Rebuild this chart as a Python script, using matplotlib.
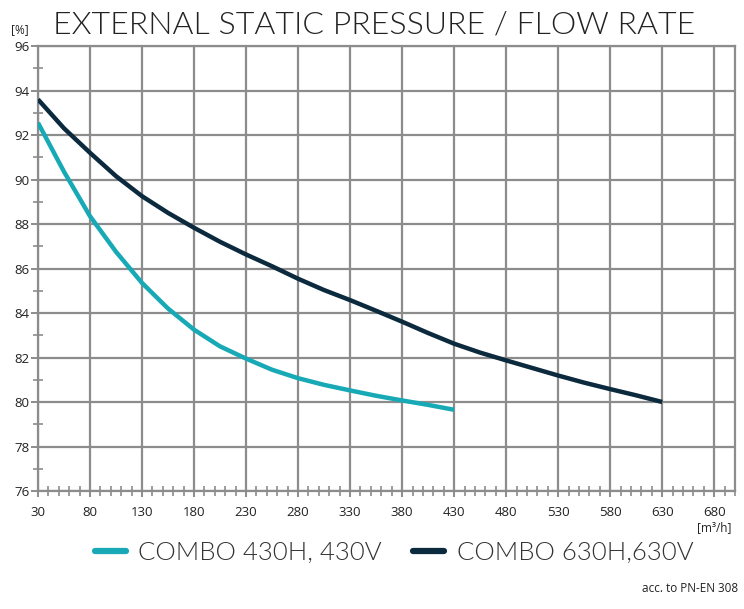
import matplotlib
matplotlib.use("Agg")
import matplotlib.pyplot as plt
from matplotlib.ticker import MultipleLocator, FixedLocator
from matplotlib.lines import Line2D

# Data
flow_430 = [30, 55, 80, 105, 130, 155, 180, 205, 230, 255, 280, 305, 330, 355, 380, 405, 430]
eff_430 = [92.55, 90.35, 88.35, 86.75, 85.35, 84.2, 83.25, 82.5, 81.95, 81.45, 81.07, 80.77, 80.52, 80.28, 80.07, 79.87, 79.65]
flow_630 = [30, 55, 80, 105, 130, 155, 180, 205, 230, 255, 280, 305, 330, 355, 380, 405, 430, 455, 480, 505, 530, 555, 580, 605, 630]
eff_630 = [93.6, 92.3, 91.2, 90.15, 89.25, 88.5, 87.83, 87.2, 86.63, 86.1, 85.54, 85.03, 84.58, 84.1, 83.61, 83.1, 82.62, 82.22, 81.87, 81.53, 81.19, 80.87, 80.58, 80.3, 80.0]
x_ticks = [30, 80, 130, 180, 230, 280, 330, 380, 430, 480, 530, 580, 630, 680]
y_ticks = [76, 78, 80, 82, 84, 86, 88, 90, 92, 94, 96]
labels = ["COMBO 430H, 430V", "COMBO 630H,630V"]

TEAL = "#17a9b5"
DARK = "#0b2a3d"
GRID = "#8c8c8c"
TXT = "#222222"

fig = plt.figure(figsize=(7.44, 6.09), dpi=100)
ax = fig.add_axes([38/744, 1-491/609, (735-38)/744, (491-46)/609])

ax.plot(flow_430, eff_430, color=TEAL, lw=3.2, solid_capstyle="butt", solid_joinstyle="round", zorder=3)
ax.plot(flow_630, eff_630, color=DARK, lw=3.2, solid_capstyle="butt", solid_joinstyle="round", zorder=3)

ax.set_xlim(30, 700)
ax.set_ylim(76, 96)
ax.xaxis.set_major_locator(FixedLocator(x_ticks))
ax.xaxis.set_minor_locator(MultipleLocator(10))
ax.yaxis.set_major_locator(FixedLocator(y_ticks))
ax.yaxis.set_minor_locator(MultipleLocator(1))
ax.grid(True, which="major", color=GRID, lw=1.6, zorder=1)
ax.set_axisbelow(True)
for s in ax.spines.values():
    s.set_color(GRID)
    s.set_linewidth(1.6)
ax.tick_params(which="major", axis="y", direction="out", length=5, width=1.4, color=GRID,
               labelsize=9.5, labelcolor=TXT, pad=1)
ax.tick_params(which="major", axis="x", direction="inout", length=8, width=1.4, color=GRID,
               labelsize=9.5, labelcolor=TXT, pad=7)
ax.tick_params(which="minor", direction="inout", length=7, width=1.2, color=GRID)
for lab in ax.get_xticklabels() + ax.get_yticklabels():
    lab.set_family("Open Sans")

fig.text(20/744, 1-30/609, "[%]", fontsize=8.5, family="Open Sans", color=TXT, ha="center", va="center")
fig.text(714/744, 1-528/609, "[m³/h]", fontsize=8.5, family="Open Sans", color=TXT, ha="center", va="center")
fig.text(374/744, 1-25/609, "EXTERNAL STATIC PRESSURE / FLOW RATE", fontsize=23,
         family="Lato", fontweight=300, color=TXT, ha="center", va="center")

handles = [Line2D([0], [0], color=TEAL, lw=4.5, solid_capstyle="round"),
           Line2D([0], [0], color=DARK, lw=4.5, solid_capstyle="round")]
fig.legend(handles, labels, loc="center", bbox_to_anchor=(394/744, 1-553/609), ncol=2,
           frameon=False, prop={"family": "Lato", "weight": 300, "size": 18.5},
           handlelength=1.2, handletextpad=0.5, columnspacing=1.2, labelcolor="#333333")
fig.text(738/744, 1-589/609, "acc. to PN-EN 308", fontsize=8.5, family="Open Sans", color=TXT,
         ha="right", va="center")

fig.savefig("out.png", dpi=100)
